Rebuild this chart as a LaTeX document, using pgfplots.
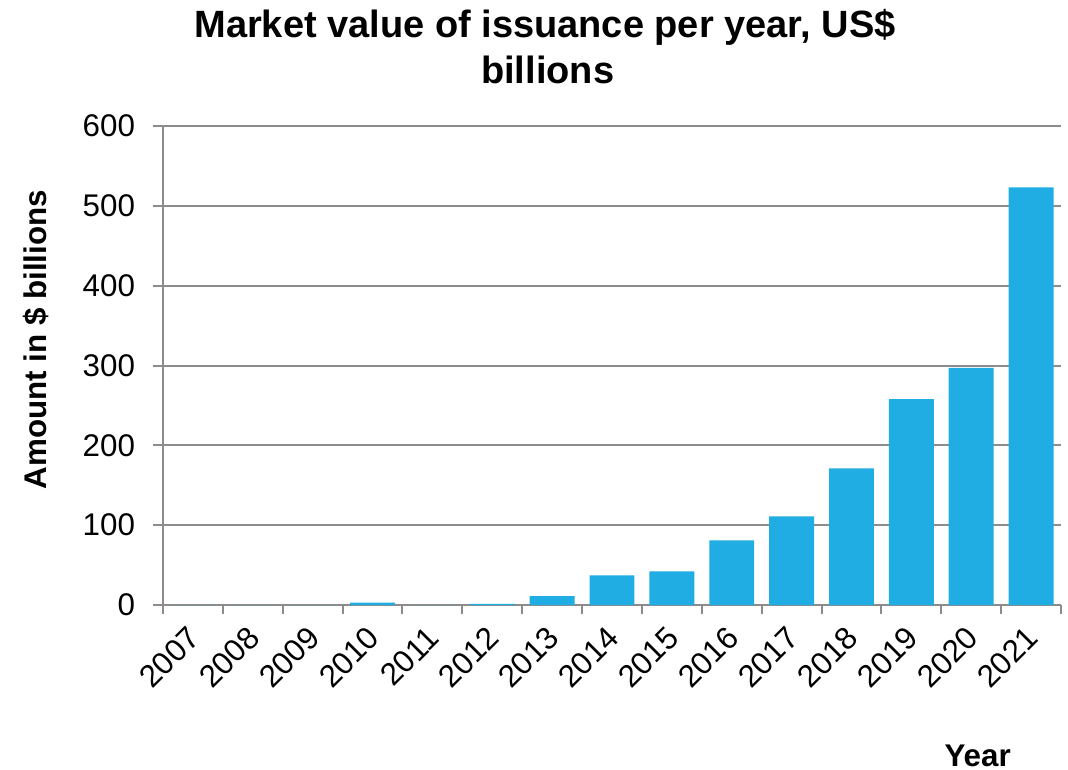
\documentclass[border=0pt]{standalone}
\usepackage{pgfplots}
\pgfplotsset{compat=1.18}
\usepackage{fontspec}
\setmainfont{Liberation Sans}
\definecolor{barblue}{RGB}{31,173,228}
\definecolor{axgray}{RGB}{140,140,140}
\begin{document}
\begin{tikzpicture}[x=1pt,y=1pt]
\path[use as bounding box] (-122.25,-123) rectangle (678.75,453.75);
\begin{axis}[
  at={(0,0)}, anchor=south west,
  scale only axis,
  width=673.5pt, height=359.25pt,
  xmin=-0.5, xmax=14.5, ymin=0, ymax=600,
  axis x line=bottom, axis y line=left,
  axis line style={axgray, line width=1.5pt, -},
  xtick={0,...,14},
  xticklabels={2007,2008,2009,2010,2011,2012,2013,2014,2015,2016,2017,2018,2019,2020,2021},
  minor xtick={-0.5,0.5,...,14.5},
  ytick={0,100,...,600},
  major x tick style={draw=none},
  minor x tick style={axgray, line width=1.5pt},
  minor tick length=7pt,
  major y tick style={axgray, line width=1.5pt},
  major tick length=7.5pt,
  tick align=outside,
  ymajorgrids,
  grid style={axgray, line width=1.5pt},
  xticklabel style={font=\fontsize{23.5}{23.5}\selectfont, xshift=1pt, yshift=-13pt, rotate=45, anchor=east, inner sep=0pt},
  yticklabel style={font=\fontsize{23.5}{23.5}\selectfont, xshift=-10pt},
  /pgf/number format/assume math mode=true,
  clip=false,
]
\addplot[ybar, bar width=33.7pt, fill=barblue, draw=none] coordinates {
 (0,0) (1,0) (2,0) (3,3) (4,0) (5,1.5) (6,11) (7,37) (8,42) (9,81) (10,111) (11,171) (12,258) (13,297) (14,523)
};
\end{axis}
\node[font=\bfseries\fontsize{28.5}{28.5}\selectfont] at (286.5,433.5) {Market value of issuance per year, US\$};
\node[font=\bfseries\fontsize{28.5}{28.5}\selectfont] at (288.5,401) {billions};
\node[font=\bfseries\fontsize{23.5}{23.5}\selectfont, rotate=90] at (-95,199) {Amount in \$ billions};
\node[font=\bfseries\fontsize{23.5}{23.5}\selectfont] at (611,-113) {Year};
\end{tikzpicture}
\end{document}
